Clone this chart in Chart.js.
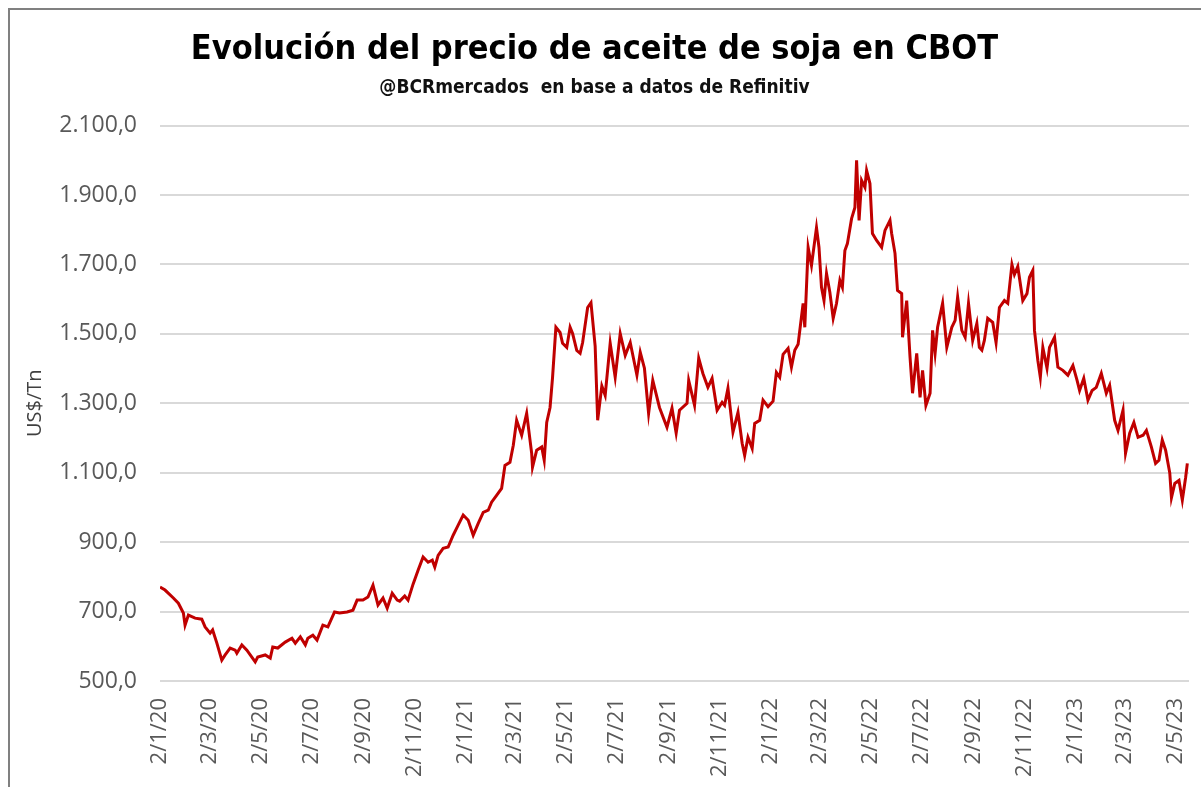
<!DOCTYPE html>
<html>
<head>
<meta charset="utf-8">
<script src="https://cdn.jsdelivr.net/npm/chart.js@4.4.0/dist/chart.umd.min.js"></script>
<style>
  html, body { margin: 0; padding: 0; background: #fff; overflow: hidden; }
  #wrap { position: relative; width: 1201px; height: 787px; }
  #frame {
    position: absolute; left: 8px; top: 8px; width: 1300px; height: 900px;
    border-top: 2px solid #808080; border-left: 2px solid #808080;
    pointer-events: none;
  }
</style>
</head>
<body>
<div id="wrap">
  <canvas id="chart" width="1201" height="787"></canvas>
  <div id="frame"></div>
</div>
<script>
// Aceite de soja CBOT, US$/Tn. Días contados desde el 2/1/20.
const dias = [
  0, 6, 16, 22, 28, 30, 34, 42, 50, 54, 60, 63, 68, 74, 78, 84, 90, 92, 98, 104,
  114, 117, 126, 132, 135, 141, 150, 158, 162, 168, 174, 177, 183, 188, 195, 201, 209, 215, 224, 231,
  236, 243, 249, 255, 261, 267, 272, 278, 284, 287, 293, 297, 303, 309, 315, 321, 326, 329, 333, 339,
  345, 351, 357, 363, 369, 375, 381, 387, 393, 397, 403, 409, 413, 419, 423, 427, 433, 439, 445, 446,
  451, 457, 460, 463, 467, 470, 474, 479, 482, 487, 491, 494, 499, 503, 506, 512, 516, 521, 524, 529,
  533, 539, 545, 551, 557, 563, 571, 575, 580, 585, 590, 598, 607, 613, 618, 622, 631, 633, 640, 645,
  650, 656, 661, 667, 673, 676, 680, 686, 692, 697, 700, 704, 709, 712, 718, 722, 728, 734, 738, 742,
  746, 752, 756, 760, 764, 770, 772, 776, 780, 786, 789, 792, 795, 798, 802, 806, 810, 814, 817, 820,
  823, 828, 832, 834, 837, 840, 844, 846, 850, 853, 858, 864, 868, 874, 876, 880, 883, 888, 889, 894,
  898, 901, 906, 910, 913, 917, 922, 925, 928, 931, 937, 942, 948, 952, 955, 960, 964, 968, 973, 978,
  981, 984, 987, 991, 997, 1001, 1005, 1011, 1015, 1020, 1023, 1027, 1033, 1038, 1041, 1045, 1047, 1051, 1054, 1057,
  1062, 1065, 1071, 1075, 1081, 1087, 1093, 1098, 1101, 1106, 1111, 1116, 1121, 1127, 1133, 1137, 1143, 1147, 1153, 1156,
  1161, 1166, 1171, 1177, 1181, 1187, 1192, 1196, 1200, 1204, 1209, 1211, 1215, 1220, 1224, 1228, 1230
];
const precios = [
  771, 762, 739, 724, 696, 661, 690, 681, 678, 656, 638, 647, 610, 560, 575, 595, 589, 580, 604, 589,
  555, 569, 575, 566, 598, 595, 612, 623, 609, 627, 604, 623, 632, 618, 661, 656, 699, 696, 699, 704,
  733, 733, 742, 776, 719, 739, 710, 753, 733, 730, 745, 733, 779, 819, 857, 842, 848, 828, 862, 882,
  886, 920, 949, 978, 963, 920, 954, 986, 992, 1015, 1035, 1055, 1121, 1130, 1179, 1251, 1208, 1271, 1156, 1116,
  1165, 1174, 1136, 1245, 1288, 1375, 1519, 1504, 1473, 1461, 1519, 1501, 1452, 1444, 1475, 1576, 1590, 1465, 1251, 1350,
  1323, 1473, 1375, 1501, 1438, 1475, 1381, 1447, 1401, 1271, 1366, 1288, 1231, 1286, 1214, 1280, 1300, 1366, 1294, 1430,
  1386, 1346, 1372, 1280, 1303, 1294, 1343, 1217, 1274, 1185, 1150, 1202, 1170, 1242, 1251, 1309, 1290, 1306, 1389, 1375,
  1441, 1458, 1404, 1453, 1470, 1588, 1519, 1749, 1697, 1806, 1749, 1634, 1596, 1674, 1620, 1545, 1588, 1654, 1634, 1740,
  1760, 1832, 1864, 2000, 1827, 1942, 1922, 1971, 1933, 1789, 1769, 1749, 1798, 1827, 1789, 1732, 1625, 1616, 1490, 1596,
  1433, 1329, 1444, 1317, 1395, 1294, 1329, 1510, 1444, 1519, 1588, 1461, 1519, 1539, 1606, 1510, 1490, 1588, 1481, 1530,
  1461, 1453, 1481, 1545, 1533, 1475, 1576, 1596, 1588, 1700, 1671, 1694, 1596, 1616, 1663, 1683, 1510, 1424, 1375, 1461,
  1401, 1461, 1490, 1404, 1395, 1381, 1409, 1366, 1337, 1372, 1309, 1337, 1346, 1386, 1329, 1352, 1251, 1222, 1280, 1156,
  1214, 1245, 1202, 1208, 1222, 1174, 1127, 1136, 1194, 1165, 1099, 1028, 1069, 1078, 1021, 1087, 1127
];
const etiquetasX = [
  '2/1/20', '2/3/20', '2/5/20', '2/7/20', '2/9/20', '2/11/20',
  '2/1/21', '2/3/21', '2/5/21', '2/7/21', '2/9/21', '2/11/21',
  '2/1/22', '2/3/22', '2/5/22', '2/7/22', '2/9/22', '2/11/22',
  '2/1/23', '2/3/23', '2/5/23'
];
const ticksY = [500, 700, 900, 1100, 1300, 1500, 1700, 1900, 2100];

// posición de cada etiqueta en días desde el 2/1/20
const base = Date.UTC(2020, 0, 2);
const diasEtiquetas = etiquetasX.map(s => {
  const [d, m, a] = s.split('/').map(Number);
  return Math.round((Date.UTC(2000 + a, m - 1, d) - base) / 86400000);
});

function fmt(v) {
  const ent = Math.trunc(v).toString().replace(/\B(?=(\d{3})+(?!\d))/g, '.');
  return ent + ',0';
}

const tickFont = { family: "'Open Sans', sans-serif", size: 23 };
const condensed = "'Liberation Sans Narrow', 'DejaVu Sans Condensed', sans-serif";

new Chart(document.getElementById('chart'), {
  type: 'line',
  data: {
    datasets: [{
      data: dias.map((d, i) => ({ x: d, y: precios[i] })),
      borderColor: '#c00000',
      borderWidth: 3,
      pointRadius: 0,
      tension: 0,
      fill: false
    }]
  },
  options: {
    responsive: false,
    animation: false,
    layout: { padding: { left: 0, right: 12, top: 0, bottom: 0 } },
    plugins: {
      legend: { display: false },
      tooltip: { enabled: false },
      title: {
        display: true,
        text: 'Evolución del precio de aceite de soja en CBOT',
        color: '#000',
        font: { family: condensed, size: 34, weight: 'bold' },
        padding: { top: 30, bottom: 0 }
      },
      subtitle: {
        display: true,
        text: '@BCRmercados  en base a datos de Refinitiv',
        color: '#111',
        font: { family: condensed, size: 19, weight: 'bold' },
        padding: { top: 6, bottom: 26 }
      }
    },
    scales: {
      x: {
        type: 'linear',
        min: 0,
        max: 1232,
        grid: { display: false, drawTicks: false },
        border: { display: false },
        afterBuildTicks: s => { s.ticks = diasEtiquetas.map(v => ({ value: v })); },
        afterFit: s => { s.height = 106; s.paddingLeft = 0; s.paddingRight = 0; },
        ticks: {
          autoSkip: false,
          minRotation: 90,
          maxRotation: 90,
          padding: 17,
          color: '#595959',
          font: { family: "'Open Sans', sans-serif", size: 22 },
          callback: v => etiquetasX[diasEtiquetas.indexOf(v)]
        }
      },
      y: {
        min: 500,
        max: 2100,
        grid: { color: '#d9d9d9', lineWidth: 2, drawTicks: false },
        border: { display: false },
        afterBuildTicks: s => { s.ticks = ticksY.map(v => ({ value: v })); },
        afterFit: s => { s.width = 160; },
        title: {
          display: true,
          text: 'US$/Tn',
          color: '#404040',
          font: { family: "'Open Sans', sans-serif", size: 20 },
          padding: { top: 23, bottom: 0 }
        },
        ticks: {
          padding: 23,
          color: '#595959',
          font: tickFont,
          callback: v => fmt(v)
        }
      }
    }
  }
});
</script>
</body>
</html>
